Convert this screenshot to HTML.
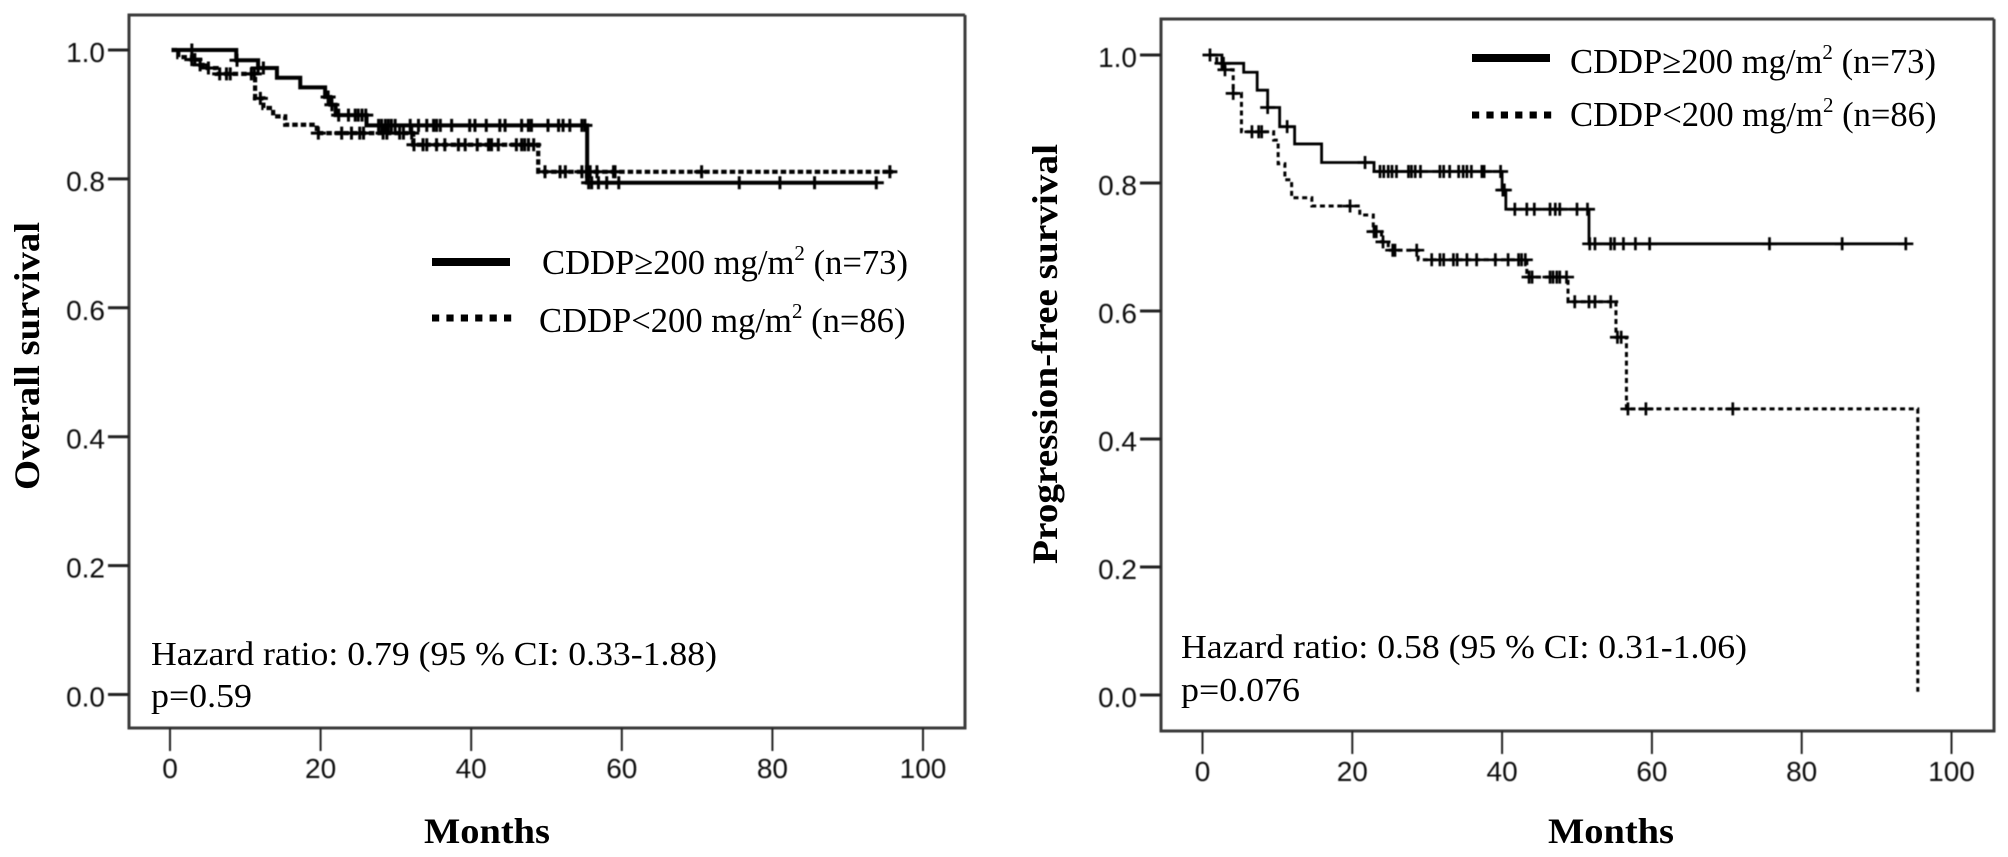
<!DOCTYPE html>
<html lang="en">
<head>
<meta charset="utf-8">
<title>Overall and progression-free survival by CDDP dose</title>
<style>
html,body{margin:0;padding:0;background:#fff;width:2008px;height:857px;overflow:hidden}
svg{display:block}
.serif{font-family:"Liberation Serif",serif;fill:#000}
.sans{font-family:"Liberation Sans",sans-serif;fill:#111}
</style>
</head>
<body>
<svg id="figure" xmlns="http://www.w3.org/2000/svg" width="2008" height="857" viewBox="0 0 2008 857">
<defs>
<filter id="soft" x="-5%" y="-5%" width="110%" height="110%"><feGaussianBlur stdDeviation="0.55"/></filter>
<filter id="softText" x="-5%" y="-5%" width="110%" height="110%"><feGaussianBlur stdDeviation="0.3"/></filter>
</defs>
<rect width="2008" height="857" fill="#fff"/>

<g>
<g id="osAxes" filter="url(#soft)"></g>
<g id="osMarks" filter="url(#soft)"></g>
<g filter="url(#softText)">
<text class="serif" transform="translate(39,490) rotate(-90)" font-size="36" font-weight="bold" textLength="268" lengthAdjust="spacingAndGlyphs">Overall survival</text>
<text class="serif" x="424" y="843" font-size="36" font-weight="bold" textLength="126" lengthAdjust="spacingAndGlyphs">Months</text>
<text class="serif" x="151" y="665" font-size="34" textLength="566" lengthAdjust="spacingAndGlyphs">Hazard ratio: 0.79 (95 % CI: 0.33-1.88)</text>
<text class="serif" x="151" y="707" font-size="34" textLength="101" lengthAdjust="spacingAndGlyphs">p=0.59</text>
<text class="serif" x="542" y="274" font-size="34.6">CDDP≥200 mg/m<tspan font-size="21" dy="-14">2</tspan><tspan dy="14"> (n=73)</tspan></text>
<text class="serif" x="539" y="332" font-size="34.6">CDDP&lt;200 mg/m<tspan font-size="21" dy="-14">2</tspan><tspan dy="14"> (n=86)</tspan></text>
</g>
<line x1="432" x2="510" y1="262" y2="262" stroke="#000" stroke-width="8"/>
<line x1="432" x2="512" y1="318" y2="318" stroke="#000" stroke-width="7" stroke-dasharray="7.2 7.2"/>
</g>

<g>
<g id="pfsAxes" filter="url(#soft)"></g>
<g id="pfsMarks" filter="url(#soft)"></g>
<g filter="url(#softText)">
<text class="serif" transform="translate(1057,564) rotate(-90)" font-size="36" font-weight="bold" textLength="420" lengthAdjust="spacingAndGlyphs">Progression-free survival</text>
<text class="serif" x="1548" y="843" font-size="36" font-weight="bold" textLength="126" lengthAdjust="spacingAndGlyphs">Months</text>
<text class="serif" x="1181" y="658" font-size="34" textLength="566" lengthAdjust="spacingAndGlyphs">Hazard ratio: 0.58 (95 % CI: 0.31-1.06)</text>
<text class="serif" x="1181" y="701" font-size="34" textLength="119" lengthAdjust="spacingAndGlyphs">p=0.076</text>
<text class="serif" x="1570" y="73" font-size="34.6">CDDP≥200 mg/m<tspan font-size="21" dy="-14">2</tspan><tspan dy="14"> (n=73)</tspan></text>
<text class="serif" x="1570" y="126" font-size="34.6">CDDP&lt;200 mg/m<tspan font-size="21" dy="-14">2</tspan><tspan dy="14"> (n=86)</tspan></text>
</g>
<line x1="1472" x2="1550" y1="58" y2="58" stroke="#000" stroke-width="8"/>
<line x1="1472" x2="1552" y1="115" y2="115" stroke="#000" stroke-width="7" stroke-dasharray="7.2 7.2"/>
</g>
</svg>

<script>
// Shared tick labels
const xTickValues = [0, 20, 40, 60, 80, 100];
const yTickValues = [0.0, 0.2, 0.4, 0.6, 0.8, 1.0];

// Overall survival, CDDP >= 200
const osHighStepTimes = [0.2, 8.8, 11.7, 14.2, 17.3, 20.6, 21.3, 22.0, 26.1, 55.4];
const osHighStepSurv = [1.0, 0.984, 0.972, 0.957, 0.942, 0.927, 0.915, 0.899, 0.883, 0.794];
const osHighEndTime = 93.8;
const osHighCensored = [2.9, 8.9, 11.7, 12.4, 21.0, 21.5, 22.4, 23.7, 24.6, 25.0, 25.5, 26.0, 27.7, 28.1, 28.6, 29.0, 29.4, 29.9, 31.9, 33.0, 34.1, 35.0, 35.4, 35.9, 37.4, 39.8, 40.5, 42.0, 43.8, 44.5, 46.7, 47.6, 48.0, 50.2, 51.6, 52.2, 53.1, 54.7, 55.1, 55.6, 56.0, 56.9, 58.0, 59.6, 75.6, 81.0, 85.6, 93.8];

// Overall survival, CDDP < 200
const osLowStepTimes = [0.2, 1.1, 2.9, 4.0, 5.0, 6.2, 11.3, 12.4, 13.7, 15.3, 19.5, 32.3, 48.9];
const osLowStepSurv = [1.0, 0.989, 0.985, 0.977, 0.972, 0.963, 0.925, 0.91, 0.897, 0.884, 0.871, 0.853, 0.811];
const osLowEndTime = 96.0;
const osLowCensored = [2.9, 3.3, 4.0, 5.1, 6.6, 7.5, 8.0, 10.8, 11.2, 12.0, 19.7, 22.8, 24.1, 25.2, 25.7, 28.3, 28.8, 30.5, 31.0, 32.1, 32.4, 33.6, 34.1, 35.4, 36.5, 38.3, 39.2, 40.8, 42.3, 42.7, 43.6, 46.0, 46.7, 47.1, 47.6, 48.3, 49.8, 51.8, 52.5, 54.7, 55.3, 55.8, 56.7, 58.9, 59.1, 70.6, 95.6];

// Progression-free survival, CDDP >= 200
const pfsHighStepTimes = [1.0, 2.6, 5.5, 7.3, 8.7, 10.3, 12.3, 15.9, 22.9, 40.0, 40.5, 51.6];
const pfsHighStepSurv = [1.0, 0.987, 0.973, 0.945, 0.918, 0.888, 0.861, 0.832, 0.818, 0.789, 0.759, 0.705];
const pfsHighEndTime = 93.9;
const pfsHighCensored = [1.0, 2.6, 2.8, 8.7, 11.3, 21.7, 23.7, 24.2, 24.8, 25.3, 25.9, 27.5, 27.9, 28.4, 29.1, 31.7, 32.2, 33.0, 34.2, 34.8, 35.3, 35.9, 37.3, 37.6, 39.8, 40.1, 40.3, 41.7, 43.3, 44.3, 46.4, 47.1, 47.7, 50.0, 51.4, 51.7, 52.4, 54.5, 55.0, 56.2, 57.8, 59.7, 75.7, 85.4, 93.9];

// Progression-free survival, CDDP < 200
const pfsLowStepTimes = [1.0, 1.9, 3.0, 4.1, 5.2, 9.5, 10.1, 11.0, 11.9, 14.6, 21.0, 22.8, 23.9, 24.8, 28.8, 43.3, 48.8, 55.2, 56.6, 95.5];
const pfsLowStepSurv = [1.0, 0.987, 0.977, 0.94, 0.88, 0.867, 0.83, 0.805, 0.777, 0.764, 0.75, 0.724, 0.708, 0.695, 0.68, 0.653, 0.6145, 0.559, 0.447, 0.005];
const pfsLowEndTime = 95.5;
const pfsLowCensored = [3.0, 4.1, 6.6, 7.5, 7.9, 19.7, 22.9, 23.2, 24.1, 25.4, 25.7, 28.6, 30.6, 31.7, 32.2, 33.5, 34.0, 35.3, 36.6, 39.1, 40.8, 42.2, 42.6, 43.1, 43.6, 44.0, 46.4, 46.8, 47.3, 47.7, 48.6, 49.7, 51.6, 52.4, 54.5, 55.4, 55.9, 56.8, 59.2, 70.8];

const SVG_NS = 'http://www.w3.org/2000/svg';

function makeEl(tag, props, parent) {
  const el = document.createElementNS(SVG_NS, tag);
  for (const k in props) el.setAttribute(k, props[k]);
  parent.appendChild(el);
  return el;
}

function drawAxes(parent, cfg) {
  const f = cfg.frame;
  const frameLeft = makeEl('path', {d: 'M' + f.right + ' ' + f.top + 'H' + f.left + 'V' + f.bottom + 'H' + f.right + 'V' + f.top, fill: 'none', stroke: '#3a3a3a', 'stroke-width': 3}, parent);
  
  
  xTickValues.forEach(function (v) {
    const tick = makeEl('line', {x1: cfg.x(v), x2: cfg.x(v), y1: f.bottom, y2: f.bottom + 23, stroke: '#222', 'stroke-width': 2}, parent);
    
    
    const label = makeEl('text', {x: cfg.x(v), y: f.bottom + 50, 'text-anchor': 'middle', 'font-size': 28, class: 'sans'}, parent);
    label.textContent = String(v);
    
    
  });
  yTickValues.forEach(function (v) {
    const tick = makeEl('line', {x1: f.left - 21, x2: f.left, y1: cfg.y(v), y2: cfg.y(v), stroke: '#222', 'stroke-width': 3}, parent);
    
    
    const label = makeEl('text', {x: f.left - 24, y: cfg.y(v) + 12, 'text-anchor': 'end', 'font-size': 28, class: 'sans'}, parent);
    label.textContent = v.toFixed(1);
    
    
  });
}

function survivalAt(times, surv, t) {
  let s = surv[0];
  for (let i = 0; i < times.length; i++) {
    if (times[i] <= t) s = surv[i];
  }
  return s;
}

function drawSeries(parent, cfg, times, surv, endTime, censored, style, name) {
  let d = 'M' + cfg.x(times[0]) + ' ' + cfg.y(surv[0]);
  for (let i = 1; i < times.length; i++) {
    d += 'H' + cfg.x(times[i]) + 'V' + cfg.y(surv[i]);
  }
  d += 'H' + cfg.x(endTime);
  const line = makeEl('path', {d: d, fill: 'none', stroke: '#000', 'stroke-width': style.width, 'stroke-dasharray': style.dash}, parent);
  
  
  censored.forEach(function (t) {
    const cx = cfg.x(t);
    const cy = cfg.y(survivalAt(times, surv, t));
    const mark = makeEl('path', {
      d: 'M' + (cx - 7.5) + ' ' + cy + 'H' + (cx + 7.5) + 'M' + cx + ' ' + (cy - 6.5) + 'V' + (cy + 6.5),
      fill: 'none', stroke: '#000', 'stroke-width': style.tick
    }, parent);
    
    
  });
}

const osCfg = {
  frame: {left: 129, right: 965, top: 15, bottom: 728},
  x: function (m) { return 170 + 7.53 * m; },
  y: function (s) { return 694.5 - 644.5 * s; }
};
const pfsCfg = {
  frame: {left: 1161, right: 1994, top: 19, bottom: 731},
  x: function (m) { return 1202.5 + 7.49 * m; },
  y: function (s) { return 695 - 640 * s; }
};

const osAxes = document.getElementById('osAxes');
const osMarks = document.getElementById('osMarks');
const pfsAxes = document.getElementById('pfsAxes');
const pfsMarks = document.getElementById('pfsMarks');

drawAxes(osAxes, osCfg);
drawAxes(pfsAxes, pfsCfg);

drawSeries(osMarks, osCfg, osLowStepTimes, osLowStepSurv, osLowEndTime, osLowCensored, {width: 4.2, dash: '5.5 3', tick: 3}, 'os-low-dose');
drawSeries(osMarks, osCfg, osHighStepTimes, osHighStepSurv, osHighEndTime, osHighCensored, {width: 4, dash: 'none', tick: 3}, 'os-high-dose');
drawSeries(pfsMarks, pfsCfg, pfsLowStepTimes, pfsLowStepSurv, pfsLowEndTime, pfsLowCensored, {width: 3, dash: '5 3.7', tick: 2.7}, 'pfs-low-dose');
drawSeries(pfsMarks, pfsCfg, pfsHighStepTimes, pfsHighStepSurv, pfsHighEndTime, pfsHighCensored, {width: 2.8, dash: 'none', tick: 2.7}, 'pfs-high-dose');
</script>
</body>
</html>
